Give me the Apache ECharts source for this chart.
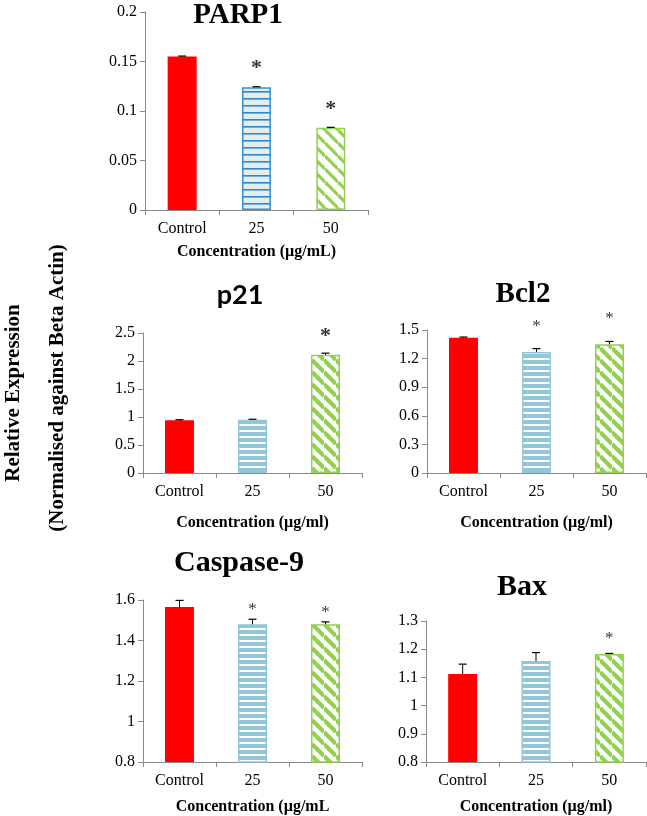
<!DOCTYPE html>
<html><head><meta charset="utf-8">
<script src="https://cdn.jsdelivr.net/npm/echarts@6/dist/echarts.min.js"></script>
<style>html,body{margin:0;padding:0;background:#fff}#c{width:647px;height:816px}</style>
</head><body><div id="c"></div>
<script>
// ---- data ----
const categories = ['Control', '25', '50'];

const parp1Values = [0.155, 0.124, 0.083];
const parp1Errors = [0.0005, 0.0005, 0.0005];
const parp1Stars = [false, true, true];

const p21Values = [0.94, 0.95, 2.11];
const p21Errors = [0.012, 0.01, 0.03];
const p21Stars = [false, false, true];

const bcl2Values = [1.42, 1.27, 1.35];
const bcl2Errors = [0.006, 0.035, 0.03];
const bcl2Stars = [false, true, true];

const casp9Values = [1.565, 1.48, 1.48];
const casp9Errors = [0.033, 0.025, 0.012];
const casp9Stars = [false, true, true];

const baxValues = [1.112, 1.158, 1.183];
const baxErrors = [0.035, 0.03, 0.002];
const baxStars = [false, false, true];

const parp1Ticks = { min: 0, max: 0.2, interval: 0.05 };
const p21Ticks = { min: 0, max: 2.5, interval: 0.5 };
const bcl2Ticks = { min: 0, max: 1.5, interval: 0.3 };
const casp9Ticks = { min: 0.8, max: 1.6, interval: 0.2 };
const baxTicks = { min: 0.8, max: 1.3, interval: 0.1 };

// ---- patterns ----
function hPattern(bg, stripe, period, thick) {
  const c = document.createElement('canvas');
  c.width = 8; c.height = period;
  const g = c.getContext('2d');
  g.fillStyle = bg; g.fillRect(0, 0, 8, period);
  g.fillStyle = stripe; g.fillRect(0, 0, 8, thick);
  return { image: c, repeat: 'repeat' };
}
function dPattern(bg, stripe, size, width) {
  const c = document.createElement('canvas');
  c.width = size; c.height = size;
  const g = c.getContext('2d');
  g.fillStyle = bg; g.fillRect(0, 0, size, size);
  g.strokeStyle = stripe; g.lineWidth = width;
  for (const off of [-size, 0, size]) {
    g.beginPath(); g.moveTo(0, off); g.lineTo(size, off + size); g.stroke();
  }
  return { image: c, repeat: 'repeat' };
}

const SERIF = '"Liberation Serif", "Times New Roman", serif';
const RED = '#ff0000';
const GREEN = '#92d050';

const panels = [
  { name: 'PARP1', values: parp1Values, errors: parp1Errors, stars: parp1Stars, ticks: parp1Ticks,
    grid: { left: 145, top: 12, width: 223, height: 198 }, xName: 'Concentration (µg/mL)', nameGap: 34,
    title: { x: 238, y: 16, font: 'bold 29px ' + SERIF },
    blue: hPattern('#e3eded', '#2f88cc', 7.5, 1.6), blueBorder: '#3b8fd0',
    green: dPattern('#ffffff', GREEN, 13, 3.2), starSize: 22, starWeight: 'bold', starGap: 6 },
  { name: 'p21', values: p21Values, errors: p21Errors, stars: p21Stars, ticks: p21Ticks,
    grid: { left: 143, top: 333, width: 219, height: 140 }, xName: 'Concentration (µg/ml)', nameGap: 42,
    title: { x: 240, y: 295, font: 'bold 27px Lato, "Open Sans", sans-serif' },
    blue: hPattern('#ffffff', '#92c6d8', 6.5, 4), blueBorder: '#92c6d8',
    green: dPattern('#ffffff', GREEN, 12, 4.2), starSize: 22, starWeight: 'bold', starGap: 5 },
  { name: 'Bcl2', values: bcl2Values, errors: bcl2Errors, stars: bcl2Stars, ticks: bcl2Ticks,
    grid: { left: 427, top: 330, width: 219, height: 143 }, xName: 'Concentration (µg/ml)', nameGap: 42,
    title: { x: 523, y: 295, font: 'bold 29px ' + SERIF },
    blue: hPattern('#ffffff', '#92c6d8', 6.5, 4), blueBorder: '#92c6d8',
    green: dPattern('#ffffff', GREEN, 12, 4.2), starSize: 17, starWeight: 'normal', starGap: 13 },
  { name: 'Caspase-9', values: casp9Values, errors: casp9Errors, stars: casp9Stars, ticks: casp9Ticks,
    grid: { left: 143, top: 600, width: 219, height: 162 }, xName: 'Concentration (µg/mL', nameGap: 37,
    title: { x: 239, y: 563, font: 'bold 30px ' + SERIF },
    blue: hPattern('#ffffff', '#92c6d8', 6.5, 4), blueBorder: '#92c6d8',
    green: dPattern('#ffffff', GREEN, 12, 4.2), starSize: 17, starWeight: 'normal', starGap: 0 },
  { name: 'Bax', values: baxValues, errors: baxErrors, stars: baxStars, ticks: baxTicks,
    grid: { left: 426, top: 621, width: 220, height: 141 }, xName: 'Concentration (µg/ml)', nameGap: 37,
    title: { x: 522, y: 587, font: 'bold 30px ' + SERIF },
    blue: hPattern('#ffffff', '#92c6d8', 6.5, 4), blueBorder: '#92c6d8',
    green: dPattern('#ffffff', GREEN, 12, 4.2), starSize: 17, starWeight: 'normal', starGap: 5 }
];

const grid = [], xAxis = [], yAxis = [], series = [], graphic = [];
const axisColor = '#8a8a8a';

panels.forEach((p, k) => {
  grid.push(Object.assign({ containLabel: false }, p.grid));
  xAxis.push({
    type: 'category', gridIndex: k, data: categories,
    axisLine: { lineStyle: { color: axisColor, width: 1 } },
    axisTick: { show: true, alignWithLabel: false, length: 5, lineStyle: { color: axisColor } },
    axisLabel: { color: '#000', fontFamily: SERIF, fontSize: 16, margin: 11 },
    name: p.xName, nameLocation: 'middle', nameGap: p.nameGap,
    nameTextStyle: { color: '#000', fontFamily: SERIF, fontWeight: 'bold', fontSize: 16 }
  });
  yAxis.push({
    type: 'value', gridIndex: k, min: p.ticks.min, max: p.ticks.max, interval: p.ticks.interval,
    axisLine: { show: true, lineStyle: { color: axisColor, width: 1 } },
    axisTick: { show: true, length: 5, lineStyle: { color: axisColor } },
    splitLine: { show: false },
    axisLabel: { color: '#000', fontFamily: SERIF, fontSize: 16, margin: 8 }
  });
  const styles = [
    { color: RED, borderColor: RED, borderWidth: 0 },
    { color: p.blue, borderColor: p.blueBorder, borderWidth: 1.5 },
    { color: p.green, borderColor: GREEN, borderWidth: 1.5 }
  ];
  series.push({
    type: 'bar', xAxisIndex: k, yAxisIndex: k, barWidth: 29, animation: false,
    data: p.values.map((v, i) => ({ value: v, itemStyle: styles[i] }))
  });
  series.push({
    type: 'custom', xAxisIndex: k, yAxisIndex: k, animation: false, z: 5,
    data: p.values.map((v, i) => [i, v, v + p.errors[i]]),
    renderItem: function (params, api) {
      const base = api.coord([api.value(0), api.value(1)]);
      const top = api.coord([api.value(0), api.value(2)]);
      return {
        type: 'group',
        children: [
          { type: 'line', shape: { x1: base[0], y1: base[1], x2: top[0], y2: top[1] }, style: { stroke: '#000', lineWidth: 1 } },
          { type: 'line', shape: { x1: top[0] - 4, y1: top[1], x2: top[0] + 4, y2: top[1] }, style: { stroke: '#000', lineWidth: 1.2 } }
        ]
      };
    }
  });
  series.push({
    type: 'scatter', xAxisIndex: k, yAxisIndex: k, animation: false, symbolSize: 2, z: 6,
    itemStyle: { color: 'rgba(0,0,0,0)' },
    data: p.values.map((v, i) => p.stars[i] ? [i, v + p.errors[i]] : null).filter(d => d),
    label: { show: true, formatter: '*', position: 'top', distance: p.starGap,
      color: '#000', fontSize: p.starSize, fontWeight: p.starWeight, fontFamily: SERIF }
  });
  graphic.push({
    type: 'text', x: p.title.x, y: p.title.y,
    style: { text: p.name, font: p.title.font, fill: '#000', textAlign: 'center', textVerticalAlign: 'middle' }
  });
});

graphic.push({
  type: 'text', x: 14, y: 393, rotation: Math.PI / 2,
  style: { text: 'Relative Expression', font: 'bold 21px ' + SERIF, fill: '#000', textAlign: 'center', textVerticalAlign: 'middle' }
});
graphic.push({
  type: 'text', x: 58, y: 388, rotation: Math.PI / 2,
  style: { text: '(Normalised against Beta Actin)', font: 'bold 21px ' + SERIF, fill: '#000', textAlign: 'center', textVerticalAlign: 'middle' }
});

const chart = echarts.init(document.getElementById('c'), null, { renderer: 'canvas' });
chart.setOption({ animation: false, backgroundColor: '#fff', grid, xAxis, yAxis, series, graphic });
</script>
</body></html>
